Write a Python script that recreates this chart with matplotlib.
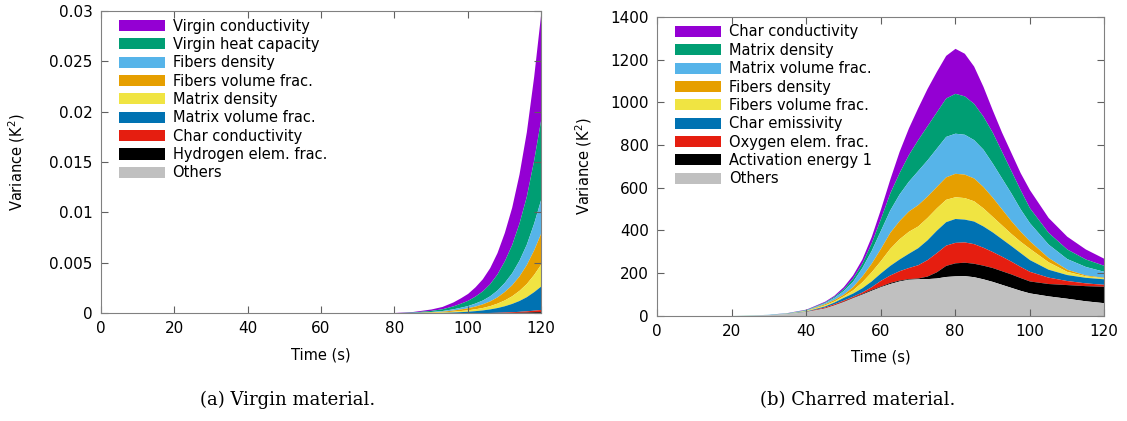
import numpy as np
import matplotlib
matplotlib.use('Agg')
import matplotlib.pyplot as plt
from matplotlib.patches import Patch

# (a) virgin material - cumulative top of each band, in 1e-3 K^2
t_a = [0, 20, 40, 60, 80, 85, 90, 93, 96, 98, 100, 102, 104, 106, 108, 110,
       112, 114, 116, 118, 120]
labels_a = ['Virgin conductivity', 'Virgin heat capacity', 'Fibers density',
            'Fibers volume frac.', 'Matrix density', 'Matrix volume frac.',
            'Char conductivity', 'Hydrogen elem. frac.', 'Others']
tops_a = [
    [0, 0, 0, 0, 0.05, 0.15, 0.4, 0.65, 1.1, 1.5, 1.95, 2.6, 3.4, 4.5, 6.0, 8.0, 10.5, 13.8, 18.0, 23.5, 30.0],
    [0, 0, 0, 0, 0.032, 0.097, 0.26, 0.42, 0.71, 0.97, 1.26, 1.68, 2.2, 2.91, 3.88, 5.18, 6.79, 8.93, 11.6, 15.2, 19.4],
    [0, 0, 0, 0, 0.019, 0.057, 0.152, 0.247, 0.418, 0.57, 0.74, 0.99, 1.29, 1.71, 2.28, 3.04, 3.99, 5.24, 6.84, 8.93, 11.4],
    [0, 0, 0, 0, 0.013, 0.04, 0.107, 0.174, 0.294, 0.4, 0.52, 0.69, 0.91, 1.2, 1.6, 2.14, 2.8, 3.68, 4.81, 6.27, 8.0],
    [0, 0, 0, 0, 0.008, 0.024, 0.065, 0.106, 0.179, 0.245, 0.318, 0.42, 0.55, 0.73, 0.98, 1.3, 1.71, 2.25, 2.93, 3.83, 4.9],
    [0, 0, 0, 0, 0.0045, 0.0135, 0.036, 0.058, 0.099, 0.135, 0.176, 0.234, 0.306, 0.405, 0.54, 0.72, 0.95, 1.24, 1.62, 2.12, 2.7],
    [0, 0, 0, 0, 0.0006, 0.0018, 0.0048, 0.0078, 0.013, 0.018, 0.023, 0.031, 0.041, 0.054, 0.072, 0.096, 0.126, 0.166, 0.216, 0.28, 0.35],
    [0, 0, 0, 0, 0.0003, 0.0008, 0.002, 0.0033, 0.0055, 0.0075, 0.01, 0.013, 0.017, 0.023, 0.03, 0.04, 0.053, 0.069, 0.09, 0.118, 0.15],
    [0, 0, 0, 0, 0.0001, 0.0003, 0.0008, 0.0013, 0.0022, 0.003, 0.004, 0.005, 0.007, 0.009, 0.012, 0.016, 0.021, 0.028, 0.036, 0.047, 0.06],
]

# (b) charred material - cumulative top of each band, K^2
t_b = [0, 10, 20, 25, 30, 35, 40, 45, 47.5, 50, 52.5, 55, 57.5, 60, 62.5, 65,
       67.5, 70, 72.5, 75, 77.5, 80, 82.5, 85, 87.5, 90, 92.5, 95, 97.5, 100,
       105, 110, 115, 120]
labels_b = ['Char conductivity', 'Matrix density', 'Matrix volume frac.',
            'Fibers density', 'Fibers volume frac.', 'Char emissivity',
            'Oxygen elem. frac.', 'Activation energy 1', 'Others']
tops_b = [
    [0, 0, 0, 2, 6, 14, 30, 67, 95, 135, 190, 265, 370, 500, 640, 770, 880, 975, 1065, 1145, 1220, 1253, 1230, 1170, 1075, 965, 860, 765, 670, 590, 460, 372, 312, 268],
    [0, 0, 0, 2, 6, 13, 28, 63, 90, 125, 175, 245, 340, 455, 575, 670, 755, 825, 890, 955, 1020, 1042, 1030, 995, 935, 860, 770, 680, 590, 505, 390, 312, 265, 235],
    [0, 0, 0, 1, 6, 12, 26, 60, 85, 117, 160, 225, 305, 400, 495, 570, 630, 680, 730, 785, 840, 855, 850, 825, 780, 715, 645, 575, 500, 435, 335, 267, 230, 207],
    [0, 0, 0, 1, 5, 11, 24, 55, 75, 100, 135, 185, 245, 315, 390, 445, 490, 520, 560, 605, 650, 667, 663, 645, 605, 555, 500, 445, 395, 350, 272, 217, 190, 179],
    [0, 0, 0, 1, 5, 11, 23, 50, 68, 92, 120, 158, 205, 258, 315, 360, 395, 420, 460, 505, 545, 557, 553, 538, 505, 465, 425, 385, 348, 315, 252, 207, 186, 177],
    [0, 0, 0, 1, 5, 10, 21, 45, 63, 85, 105, 130, 162, 200, 235, 265, 292, 318, 355, 400, 440, 455, 452, 443, 420, 392, 360, 328, 295, 262, 217, 192, 179, 172],
    [0, 0, 0, 1, 4, 9, 19, 40, 55, 72, 90, 110, 135, 165, 190, 210, 225, 238, 262, 295, 330, 343, 345, 337, 320, 300, 278, 255, 230, 207, 180, 164, 153, 146],
    [0, 0, 0, 1, 4, 9, 18, 36, 50, 67, 85, 103, 122, 138, 155, 166, 173, 176, 185, 205, 235, 247, 250, 245, 236, 225, 210, 195, 178, 162, 150, 145, 140, 137],
    [0, 0, 0, 1, 4, 9, 18, 35, 49, 65, 83, 100, 118, 135, 150, 162, 170, 172, 173, 176, 183, 186, 187, 182, 172, 160, 146, 132, 118, 106, 92, 81, 69, 60],
]

colors = ['#9400d3', '#009e73', '#56b4e9', '#e69f00', '#f0e442',
          '#0072b2', '#e51e10', '#000000', '#c0c0c0']

plt.rcParams['font.family'] = 'DejaVu Sans'

fig = plt.figure(figsize=(11.27, 4.21), dpi=100)
ax1 = fig.add_axes([101/1127, 1 - 313/421, 440/1127, 302/421])
ax2 = fig.add_axes([657/1127, 1 - 315.5/421, 447/1127, 298.5/421])


def draw(ax, t, tops, labels, scale, ypad):
    t = np.array(t)
    tops = [np.array(v) * scale for v in tops]
    for i, top in enumerate(tops):
        lower = tops[i + 1] if i + 1 < len(tops) else np.zeros_like(top)
        ax.fill_between(t, lower, top, color=colors[i], lw=0)
    handles = [Patch(facecolor=c, edgecolor='none') for c in colors]
    ax.legend(handles, labels, loc='upper left', bbox_to_anchor=(0.04, 0.975),
              frameon=False, fontsize=10.5, handlelength=3.15, handleheight=0.8,
              labelspacing=0.23, handletextpad=0.55, borderpad=0, borderaxespad=0)
    ax.set_xlim(0, 120)
    ax.set_xticks(range(0, 121, 20))
    for s in ax.spines.values():
        s.set_color('#808080')
    ax.tick_params(direction='in', top=True, right=True, length=5,
                   color='#606060', labelsize=11, pad=6)
    ax.set_xlabel('Time (s)', fontsize=10.5, labelpad=8)
    ax.set_ylabel('Variance (K$^2$)', fontsize=10.5, labelpad=ypad)


draw(ax1, t_a, tops_a, labels_a, 1e-3, 16)
ax1.set_ylim(0, 0.03)
ax1.set_yticks([0, 0.005, 0.01, 0.015, 0.02, 0.025, 0.03])
ax1.set_yticklabels(['0', '0.005', '0.01', '0.015', '0.02', '0.025', '0.03'])

draw(ax2, t_b, tops_b, labels_b, 1, 12)
ax2.set_ylim(0, 1400)
ax2.set_yticks(range(0, 1401, 200))

fig.text(288/1127, 1 - 400/421, '(a) Virgin material.', family='DejaVu Serif',
         fontsize=13, ha='center', va='center')
fig.text(858/1127, 1 - 400/421, '(b) Charred material.', family='DejaVu Serif',
         fontsize=13, ha='center', va='center')

fig.savefig('out.png', dpi=100)
